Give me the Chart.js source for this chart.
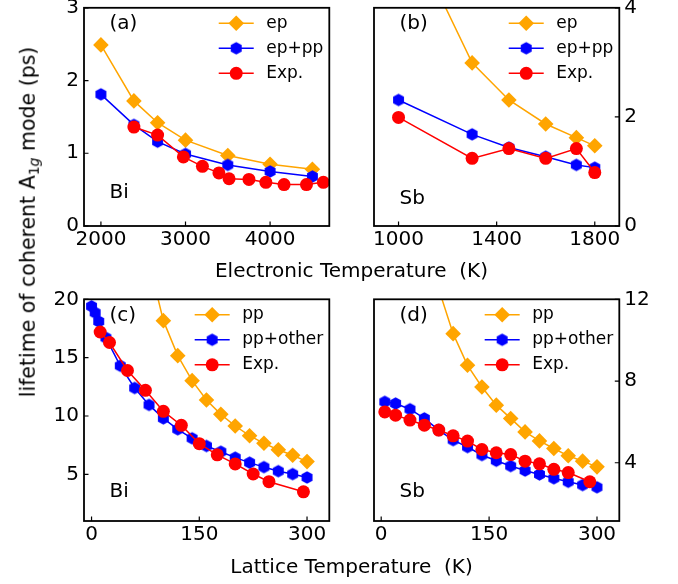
<!DOCTYPE html>
<html><head><meta charset="utf-8">
<script src="https://cdn.jsdelivr.net/npm/chart.js@4/dist/chart.umd.min.js"></script>
<style>
html,body{margin:0;padding:0;background:#fff;}
#wrap{position:relative;width:678px;height:584px;overflow:hidden;font-family:"DejaVu Sans",sans-serif;background:#fff;}
canvas{position:absolute;left:0;top:0;}
.lbl{position:absolute;font-size:20px;color:#000;white-space:nowrap;line-height:1;}
.lbl sub{font-size:14px;line-height:0;vertical-align:-4px;}
</style></head><body>
<div id="wrap">
<canvas id="ca" width="678" height="584"></canvas>
<canvas id="cb" width="678" height="584"></canvas>
<canvas id="cc" width="678" height="584"></canvas>
<canvas id="cd" width="678" height="584"></canvas>
<div class="lbl" style="left:351.5px;top:270px;transform:translate(-50%,-50%)">Electronic Temperature&nbsp;&nbsp;(K)</div>
<div class="lbl" style="left:351.5px;top:566px;transform:translate(-50%,-50%)">Lattice Temperature&nbsp;&nbsp;(K)</div>
<div class="lbl" style="left:28px;top:222px;font-size:20.5px;transform:translate(-50%,-50%) rotate(-90deg)">lifetime of coherent A<sub>1<i>g</i></sub> mode (ps)</div>
</div>
<script>
// ---------- data ----------
// (a) Bi, electronic temperature
const aT = [2000, 2390, 2670, 3000, 3500, 4000, 4500];
const aEp = [2.49, 1.72, 1.42, 1.18, 0.97, 0.85, 0.78];
const aEpPp = [1.81, 1.39, 1.16, 0.99, 0.84, 0.75, 0.68];
const aExpT = [2390, 2670, 2975, 3200, 3395, 3515, 3750, 3950, 4165, 4430, 4630];
const aExp = [1.36, 1.25, 0.95, 0.82, 0.73, 0.65, 0.64, 0.60, 0.57, 0.57, 0.60];
// (b) Sb, electronic temperature
const bEpT = [1000, 1300, 1450, 1600, 1725, 1800];
const bEp = [5.8, 2.99, 2.31, 1.87, 1.62, 1.47];
const bT = [1000, 1300, 1450, 1600, 1725, 1800];
const bEpPp = [2.31, 1.68, 1.44, 1.27, 1.12, 1.07];
const bExp = [1.99, 1.24, 1.42, 1.24, 1.42, 0.98];
// (c) Bi, lattice temperature
const cPpT = [80, 100, 120, 140, 160, 180, 200, 220, 240, 260, 280, 300];
const cPp = [23.2, 18.17, 15.17, 13.03, 11.37, 10.14, 9.14, 8.31, 7.66, 7.1, 6.63, 6.09];
const cOtherT = [0, 5, 10, 20, 40, 60, 80, 100, 120, 140, 160, 180, 200, 220, 240, 260, 280, 300];
const cOther = [19.4, 18.85, 18.1, 16.7, 14.3, 12.4, 10.95, 9.8, 8.86, 8.09, 7.43, 6.94, 6.43, 6.0, 5.62, 5.27, 5.02, 4.73];
const cExpT = [12, 25, 50, 75, 100, 125, 150, 175, 200, 225, 247, 295];
const cExp = [17.2, 16.3, 13.9, 12.2, 10.4, 9.2, 7.63, 6.67, 5.89, 5.03, 4.37, 3.5];
// (d) Sb, lattice temperature
const dPpT = [80, 100, 120, 140, 160, 180, 200, 220, 240, 260, 280, 300];
const dPp = [12.5, 10.32, 8.77, 7.71, 6.82, 6.17, 5.51, 5.07, 4.70, 4.34, 4.08, 3.80];
const dOtherT = [5, 20, 40, 60, 80, 100, 120, 140, 160, 180, 200, 220, 240, 260, 280, 300];
const dOther = [6.98, 6.9, 6.62, 6.17, 5.6, 5.11, 4.77, 4.38, 4.10, 3.84, 3.62, 3.43, 3.24, 3.07, 2.91, 2.80];
const dExpT = [5, 20, 40, 60, 80, 100, 120, 140, 160, 180, 200, 220, 240, 260, 290];
const dExp = [6.49, 6.33, 6.09, 5.84, 5.6, 5.32, 5.06, 4.65, 4.49, 4.40, 4.08, 3.95, 3.68, 3.52, 3.07];
// tick labels
const aXTicks = [2000, 3000, 4000];
const aYTicks = [0, 1, 2, 3];
const bXTicks = [1000, 1400, 1800];
const bYTicks = [0, 2, 4];
const cXTicks = [0, 150, 300];
const cYTicks = [5, 10, 15, 20];
const dXTicks = [0, 150, 300];
const dYTicks = [4, 8, 12];
// series names
const elecNames = ['ep', 'ep+pp', 'Exp.'];
const latNames = ['pp', 'pp+other', 'Exp.'];

// ---------- styles ----------
const FONT = "'DejaVu Sans', sans-serif";
const ORANGE = '#FFA500', BLUE = '#0000FF', RED = '#FF0000';
function hexImg(r, color) {
  const c = document.createElement('canvas');
  const s = Math.ceil(2 * r + 2);
  c.width = s; c.height = s;
  const g = c.getContext('2d');
  g.fillStyle = color;
  g.beginPath();
  for (let i = 0; i < 6; i++) {
    const a = -Math.PI / 2 + i * Math.PI / 3;
    const x = s / 2 + r * Math.cos(a), y = s / 2 + r * Math.sin(a);
    i ? g.lineTo(x, y) : g.moveTo(x, y);
  }
  g.closePath(); g.fill();
  return c;
}
const HEX = hexImg(6.3, BLUE);
const STY = [
  { color: ORANGE, pointStyle: 'rectRot', pointRadius: 7.8 },
  { color: BLUE, pointStyle: HEX, pointRadius: 6 },
  { color: RED, pointStyle: 'circle', pointRadius: 6.5 }
];

function drawMarker(ctx, i, x, y) {
  const s = STY[i];
  ctx.save();
  ctx.fillStyle = s.color;
  if (i === 0) {
    const r = s.pointRadius;
    ctx.beginPath(); ctx.moveTo(x, y - r); ctx.lineTo(x + r, y); ctx.lineTo(x, y + r); ctx.lineTo(x - r, y); ctx.closePath(); ctx.fill();
  } else if (i === 1) {
    ctx.drawImage(HEX, x - HEX.width / 2, y - HEX.height / 2);
  } else {
    ctx.beginPath(); ctx.arc(x, y, s.pointRadius, 0, Math.PI * 2); ctx.fill();
  }
  ctx.restore();
}

const framePlugin = {
  id: 'frame',
  afterDraw(chart) {
    const o = chart.options.plugins.frame;
    const ctx = chart.ctx;
    const a = chart.chartArea;
    const xs = chart.scales.x, ys = chart.scales.y;
    ctx.save();
    // inward ticks
    ctx.strokeStyle = '#000'; ctx.lineWidth = 1.2;
    ctx.beginPath();
    xs.ticks.forEach(t => { const px = xs.getPixelForValue(t.value); ctx.moveTo(px, a.bottom); ctx.lineTo(px, a.bottom - 4.5); });
    ys.ticks.forEach(t => {
      const py = ys.getPixelForValue(t.value);
      if (o.yRight) { ctx.moveTo(a.right, py); ctx.lineTo(a.right - 4.5, py); }
      else { ctx.moveTo(a.left, py); ctx.lineTo(a.left + 4.5, py); }
    });
    ctx.stroke();
    // spines
    ctx.lineWidth = 1.8;
    ctx.strokeRect(a.left, a.top, a.right - a.left, a.bottom - a.top);
    // legend
    ctx.font = '17px ' + FONT;
    ctx.textBaseline = 'middle'; ctx.textAlign = 'left'; ctx.fillStyle = '#000';
    const names = chart.data.datasets.map(d => d.label);
    const W = Math.max(...names.map(n => ctx.measureText(n).width));
    const tx = a.right - 6 - W;
    names.forEach((n, i) => {
      const y = a.top + 15.5 + 25 * i;
      ctx.strokeStyle = STY[i].color; ctx.lineWidth = 1.5;
      ctx.beginPath(); ctx.moveTo(tx - 47.5, y); ctx.lineTo(tx - 12.5, y); ctx.stroke();
      drawMarker(ctx, i, tx - 30, y);
      ctx.fillStyle = '#000';
      ctx.fillText(n, tx, y);
    });
    // panel labels
    ctx.font = '20px ' + FONT;
    ctx.fillText(o.tag, a.left + 25.5, a.top + 16);
    ctx.fillText(o.element, a.left + 25.5, o.elemY);
    ctx.restore();
  }
};

function makePanel(id, p) {
  const sets = p.series.map((s, i) => ({
    label: p.names[i],
    data: s.x.map((x, j) => ({ x: x, y: s.y[j] })),
    borderColor: STY[i].color,
    backgroundColor: STY[i].color,
    pointBackgroundColor: STY[i].color,
    pointStyle: STY[i].pointStyle,
    pointRadius: STY[i].pointRadius,
    pointBorderWidth: 0,
    borderWidth: 1.5,
    tension: 0,
    order: 2 - i
  }));
  const tickFont = { family: FONT, size: 20 };
  new Chart(document.getElementById(id), {
    type: 'line',
    data: { datasets: sets },
    plugins: [framePlugin],
    options: {
      responsive: false, animation: false, devicePixelRatio: 1,
      layout: { padding: p.pad },
      plugins: { legend: { display: false }, tooltip: { enabled: false },
        frame: { yRight: p.yRight, tag: p.tag, element: p.element, elemY: p.elemY } },
      scales: {
        x: {
          type: 'linear', position: 'bottom', min: p.xMin, max: p.xMax,
          grid: { display: false, drawTicks: false }, border: { display: false },
          ticks: { font: tickFont, color: '#000', padding: 2, autoSkip: false, maxRotation: 0,
            callback: v => String(v) },
          afterBuildTicks: s => { s.ticks = p.xTicks.map(v => ({ value: v })); },
          afterFit: s => { s.height = 40; s.paddingLeft = 0; s.paddingRight = 0; }
        },
        y: {
          type: 'linear', position: p.yRight ? 'right' : 'left', min: p.yMin, max: p.yMax,
          grid: { display: false, drawTicks: false }, border: { display: false },
          ticks: { font: tickFont, color: '#000', padding: 5, autoSkip: false,
            callback: v => String(v) },
          afterBuildTicks: s => { s.ticks = p.yTicks.map(v => ({ value: v })); },
          afterFit: s => { s.width = p.yW; s.paddingTop = 0; s.paddingBottom = 0; }
        }
      }
    }
  });
}

// panel geometry: chart area (a) 84..329.3 x 5..226 ; (c) 84..329.3 x 299.3..521
makePanel('ca', {
  names: elecNames,
  series: [{ x: aT, y: aEp }, { x: aT, y: aEpPp }, { x: aExpT, y: aExp }],
  xMin: 1800, xMax: 4700, yMin: 0, yMax: 3, xTicks: aXTicks, yTicks: aYTicks,
  yRight: false, yW: 60, pad: { left: 24, right: 348.7, top: 5, bottom: 318 },
  tag: '(a)', element: 'Bi', elemY: 193
});
makePanel('cb', {
  names: elecNames,
  series: [{ x: bEpT, y: bEp }, { x: bT, y: bEpPp }, { x: bT, y: bExp }],
  xMin: 900, xMax: 1900, yMin: 0, yMax: 4, xTicks: bXTicks, yTicks: bYTicks,
  yRight: true, yW: 40, pad: { left: 374, right: 18.7, top: 5, bottom: 318 },
  tag: '(b)', element: 'Sb', elemY: 199
});
makePanel('cc', {
  names: latNames,
  series: [{ x: cPpT, y: cPp }, { x: cOtherT, y: cOther }, { x: cExpT, y: cExp }],
  xMin: -10.5, xMax: 331, yMin: 1, yMax: 20, xTicks: cXTicks, yTicks: cYTicks,
  yRight: false, yW: 60, pad: { left: 24, right: 348.7, top: 299.3, bottom: 23 },
  tag: '(c)', element: 'Bi', elemY: 491.7
});
makePanel('cd', {
  names: latNames,
  series: [{ x: dPpT, y: dPp }, { x: dOtherT, y: dOther }, { x: dExpT, y: dExp }],
  xMin: -10, xMax: 331, yMin: 1.15, yMax: 12, xTicks: dXTicks, yTicks: dYTicks,
  yRight: true, yW: 40, pad: { left: 374, right: 18.7, top: 299.3, bottom: 23 },
  tag: '(d)', element: 'Sb', elemY: 491.7
});
</script>
</body></html>
